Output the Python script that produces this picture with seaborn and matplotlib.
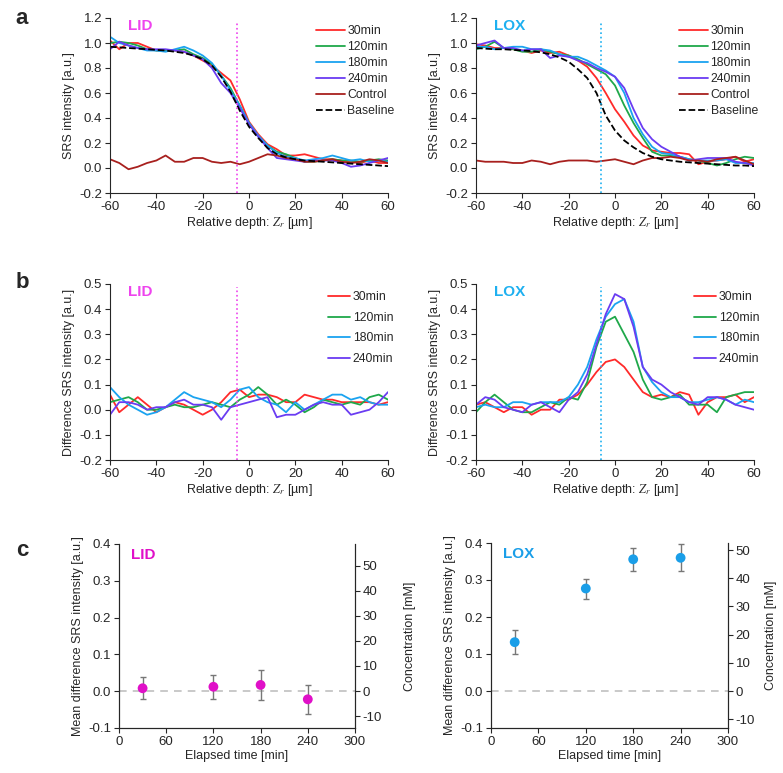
import numpy as np
import pandas as pd
import matplotlib
matplotlib.use("Agg")
import matplotlib.pyplot as plt
import seaborn as sns

# depth grid (µm), values every 4 µm
depth = list(range(-60, 61, 4))

# ---- panel a, LID ----
lid_a_30 = [1.02, 0.95, 1.00, 1.00, 0.97, 0.94, 0.94, 0.94, 0.93, 0.90, 0.86, 0.82, 0.76, 0.70, 0.55, 0.37,
            0.27, 0.19, 0.15, 0.10, 0.10, 0.11, 0.09, 0.07, 0.07, 0.06, 0.05, 0.04, 0.06, 0.04, 0.04]
lid_a_120 = [1.00, 1.01, 1.00, 0.98, 0.95, 0.94, 0.94, 0.94, 0.95, 0.91, 0.88, 0.83, 0.74, 0.64, 0.50, 0.36,
             0.25, 0.18, 0.13, 0.11, 0.08, 0.05, 0.05, 0.06, 0.07, 0.06, 0.06, 0.05, 0.06, 0.07, 0.06]
lid_a_180 = [1.05, 1.00, 0.98, 0.96, 0.94, 0.94, 0.93, 0.95, 0.97, 0.94, 0.90, 0.84, 0.74, 0.62, 0.50, 0.36,
             0.26, 0.18, 0.12, 0.09, 0.08, 0.06, 0.07, 0.08, 0.10, 0.08, 0.06, 0.07, 0.05, 0.06, 0.05]
lid_a_240 = [0.95, 1.01, 0.98, 0.96, 0.95, 0.95, 0.95, 0.94, 0.93, 0.90, 0.87, 0.80, 0.68, 0.60, 0.48, 0.35,
             0.25, 0.16, 0.08, 0.07, 0.06, 0.05, 0.06, 0.06, 0.06, 0.04, 0.01, 0.02, 0.04, 0.06, 0.08]
lid_a_ctrl = [0.07, 0.04, -0.01, 0.01, 0.04, 0.06, 0.10, 0.05, 0.05, 0.08, 0.08, 0.05, 0.04, 0.05, 0.03, 0.05,
              0.08, 0.11, 0.10, 0.08, 0.07, 0.05, 0.05, 0.06, 0.07, 0.05, 0.04, 0.05, 0.07, 0.06, 0.04]
lid_a_base = [0.97, 0.965, 0.96, 0.955, 0.95, 0.945, 0.94, 0.93, 0.92, 0.90, 0.87, 0.82, 0.73, 0.61, 0.46, 0.33,
              0.24, 0.16, 0.11, 0.085, 0.07, 0.06, 0.055, 0.05, 0.045, 0.04, 0.035, 0.03, 0.025, 0.02, 0.015]

# ---- panel a, LOX ----
lox_a_30 = [0.99, 0.98, 0.96, 0.96, 0.95, 0.94, 0.92, 0.94, 0.92, 0.93, 0.90, 0.86, 0.81, 0.72, 0.60, 0.47,
            0.37, 0.26, 0.18, 0.14, 0.13, 0.12, 0.12, 0.11, 0.03, 0.05, 0.06, 0.07, 0.09, 0.05, 0.07]
lox_a_120 = [0.95, 0.97, 1.01, 0.96, 0.95, 0.93, 0.93, 0.95, 0.93, 0.91, 0.90, 0.87, 0.83, 0.79, 0.75, 0.66,
             0.50, 0.36, 0.24, 0.13, 0.10, 0.10, 0.09, 0.07, 0.06, 0.04, 0.02, 0.04, 0.07, 0.09, 0.08]
lox_a_180 = [0.97, 0.97, 0.95, 0.96, 0.97, 0.97, 0.95, 0.95, 0.94, 0.91, 0.89, 0.89, 0.86, 0.82, 0.78, 0.73,
             0.60, 0.40, 0.27, 0.17, 0.12, 0.11, 0.09, 0.07, 0.06, 0.06, 0.06, 0.07, 0.04, 0.04, 0.04]
lox_a_240 = [0.98, 1.00, 1.02, 0.96, 0.96, 0.94, 0.95, 0.95, 0.88, 0.90, 0.89, 0.86, 0.84, 0.80, 0.77, 0.73,
             0.64, 0.47, 0.32, 0.23, 0.17, 0.13, 0.09, 0.06, 0.07, 0.08, 0.08, 0.08, 0.05, 0.04, 0.02]
lox_a_ctrl = [0.06, 0.05, 0.05, 0.05, 0.04, 0.04, 0.06, 0.05, 0.03, 0.05, 0.06, 0.06, 0.06, 0.05, 0.06, 0.07,
              0.05, 0.03, 0.06, 0.08, 0.08, 0.09, 0.08, 0.06, 0.06, 0.05, 0.07, 0.08, 0.09, 0.06, 0.03]
lox_a_base = [0.96, 0.955, 0.95, 0.95, 0.945, 0.94, 0.935, 0.925, 0.91, 0.885, 0.85, 0.79, 0.72, 0.60, 0.42, 0.30,
              0.22, 0.165, 0.12, 0.09, 0.07, 0.06, 0.05, 0.045, 0.04, 0.035, 0.03, 0.025, 0.02, 0.02, 0.015]

# ---- panel b, LID (difference) ----
lid_b_30 = [0.06, -0.01, 0.02, 0.05, 0.02, -0.01, 0.01, 0.03, 0.02, 0.00, -0.02, 0.00, 0.03, 0.07, 0.08, 0.05,
            0.06, 0.06, 0.05, 0.03, 0.03, 0.06, 0.05, 0.04, 0.04, 0.03, 0.03, 0.03, 0.03, 0.02, 0.03]
lid_b_120 = [0.03, 0.04, 0.05, 0.03, 0.00, 0.00, 0.01, 0.02, 0.01, 0.01, 0.02, 0.03, 0.02, 0.01, 0.04, 0.06,
             0.09, 0.06, 0.02, 0.04, 0.02, -0.01, 0.01, 0.04, 0.03, 0.02, 0.03, 0.02, 0.05, 0.06, 0.04]
lid_b_180 = [0.09, 0.05, 0.02, 0.00, -0.02, -0.01, 0.01, 0.04, 0.07, 0.05, 0.04, 0.03, 0.01, 0.04, 0.08, 0.09,
             0.05, 0.03, 0.02, -0.01, 0.03, 0.00, 0.02, 0.04, 0.06, 0.06, 0.04, 0.05, 0.03, 0.02, 0.02]
lid_b_240 = [-0.02, 0.03, 0.03, 0.02, 0.00, 0.01, 0.01, 0.03, 0.04, 0.02, 0.02, 0.01, -0.04, 0.01, 0.02, 0.03,
             0.04, 0.05, -0.03, -0.02, -0.02, 0.00, 0.02, 0.03, 0.02, 0.02, -0.02, -0.01, 0.00, 0.03, 0.07]

# ---- panel b, LOX (difference) ----
lox_b_30 = [0.02, 0.03, 0.01, -0.01, 0.01, 0.01, -0.02, 0.00, 0.00, 0.04, 0.04, 0.06, 0.10, 0.15, 0.19, 0.20,
            0.17, 0.12, 0.07, 0.05, 0.06, 0.05, 0.07, 0.06, -0.02, 0.03, 0.05, 0.05, 0.06, 0.03, 0.05]
lox_b_120 = [-0.01, 0.03, 0.06, 0.03, 0.00, -0.01, -0.01, 0.01, 0.03, 0.02, 0.05, 0.04, 0.11, 0.25, 0.35, 0.37,
             0.30, 0.23, 0.12, 0.05, 0.04, 0.05, 0.06, 0.02, 0.02, 0.02, -0.01, 0.05, 0.06, 0.07, 0.07]
lox_b_180 = [0.01, 0.02, 0.01, 0.01, 0.03, 0.03, 0.02, 0.03, 0.03, 0.03, 0.05, 0.10, 0.17, 0.28, 0.37, 0.42,
             0.44, 0.35, 0.17, 0.11, 0.07, 0.05, 0.05, 0.03, 0.03, 0.04, 0.05, 0.04, 0.02, 0.04, 0.03]
lox_b_240 = [0.02, 0.05, 0.04, 0.01, 0.00, -0.01, 0.02, 0.03, 0.01, -0.01, 0.04, 0.07, 0.14, 0.26, 0.38, 0.46,
             0.44, 0.33, 0.17, 0.12, 0.10, 0.07, 0.05, 0.03, 0.02, 0.05, 0.05, 0.04, 0.02, 0.01, 0.00]

# ---- panel c ----
elapsed = [30, 120, 180, 240]
lid_c_mean = [0.008, 0.012, 0.017, -0.022]
lid_c_err = [0.030, 0.033, 0.041, 0.040]
lox_c_mean = [0.132, 0.277, 0.356, 0.360]
lox_c_err = [0.032, 0.027, 0.031, 0.037]

colors = {"30min": "#ff2a2a", "120min": "#1fa84a", "180min": "#1aa3f0",
          "240min": "#6a3cf2", "Control": "#a8201e", "Baseline": "black"}
LID_COL = "#ee44ee"
LOX_COL = "#1eb0f0"
TICK_FS = 9.5
LAB_FS = 9
LEG_FS = 8.8

sns.set_style("ticks")
plt.rcParams["font.family"] = ["Liberation Sans", "DejaVu Sans"]
plt.rcParams["mathtext.fontset"] = "stix"
plt.rcParams["axes.unicode_minus"] = False

fig = plt.figure(figsize=(7.83, 7.73), dpi=100)
W, H = 783, 773


def add_ax(x0, y0, x1, y1):
    return fig.add_axes([x0 / W, 1 - y1 / H, (x1 - x0) / W, (y1 - y0) / H])


def style_depth(ax, ylim, yticks, ylabel, vline, vcol, tag, tagcol):
    ax.set_xlim(-60, 60)
    ax.set_ylim(*ylim)
    ax.set_xticks(range(-60, 61, 20))
    ax.set_yticks(yticks)
    ax.set_yticklabels([f"{t:.1f}" for t in yticks])
    ax.set_xlabel(r"Relative depth: $\mathit{Z_r}$ [µm]", fontsize=LAB_FS, labelpad=2)
    ax.set_ylabel(ylabel, fontsize=LAB_FS, labelpad=3)
    ax.axvline(vline, color=vcol, ls=":", lw=1.2, ymax=0.985)
    ax.text(0.065, 0.955, tag, transform=ax.transAxes, color=tagcol, fontsize=11,
            fontweight="bold", va="center", ha="left")
    ax.tick_params(labelsize=TICK_FS, length=3.5, width=0.8, pad=2)
    sns.despine(ax=ax)


def draw_lines(ax, series, lw=1.3):
    for name, vals in series:
        df = pd.DataFrame({"depth": depth, "val": vals})
        sns.lineplot(data=df, x="depth", y="val", ax=ax, color=colors[name], lw=lw,
                     ls="--" if name == "Baseline" else "-", label=name)


# panel a
a_ticks = np.round(np.arange(-0.2, 1.21, 0.2), 1)
ax = add_ax(110, 18, 388, 193)
draw_lines(ax, [("30min", lid_a_30), ("120min", lid_a_120), ("180min", lid_a_180),
                ("240min", lid_a_240), ("Control", lid_a_ctrl), ("Baseline", lid_a_base)])
style_depth(ax, (-0.2, 1.2), a_ticks, "SRS intensity [a.u.]", -5.2, LID_COL, "LID", LID_COL)
ax.legend(frameon=False, loc="upper right", bbox_to_anchor=(1.05, 1.0), fontsize=LEG_FS,
          handlelength=2.4, handletextpad=0.2, labelspacing=0.32, borderaxespad=0.2)

ax = add_ax(476, 18, 754, 193)
draw_lines(ax, [("30min", lox_a_30), ("120min", lox_a_120), ("180min", lox_a_180),
                ("240min", lox_a_240), ("Control", lox_a_ctrl), ("Baseline", lox_a_base)])
style_depth(ax, (-0.2, 1.2), a_ticks, "SRS intensity [a.u.]", -6.2, LOX_COL, "LOX", LOX_COL)
ax.legend(frameon=False, loc="upper right", bbox_to_anchor=(1.04, 1.0), fontsize=LEG_FS,
          handlelength=2.4, handletextpad=0.2, labelspacing=0.32, borderaxespad=0.2)

# panel b
b_ticks = np.round(np.arange(-0.2, 0.51, 0.1), 1)
ax = add_ax(110, 284, 388, 460)
draw_lines(ax, [("30min", lid_b_30), ("120min", lid_b_120), ("180min", lid_b_180), ("240min", lid_b_240)])
style_depth(ax, (-0.2, 0.5), b_ticks, "Difference SRS intensity [a.u.]", -5.2, LID_COL, "LID", LID_COL)
ax.legend(frameon=False, loc="upper right", bbox_to_anchor=(1.045, 1.0), fontsize=LEG_FS,
          handlelength=1.8, handletextpad=0.2, labelspacing=0.7, borderaxespad=0.2)

ax = add_ax(476, 284, 754, 460)
draw_lines(ax, [("30min", lox_b_30), ("120min", lox_b_120), ("180min", lox_b_180), ("240min", lox_b_240)])
style_depth(ax, (-0.2, 0.5), b_ticks, "Difference SRS intensity [a.u.]", -6.2, LOX_COL, "LOX", LOX_COL)
ax.legend(frameon=False, loc="upper right", bbox_to_anchor=(1.045, 1.0), fontsize=LEG_FS,
          handlelength=1.8, handletextpad=0.2, labelspacing=0.7, borderaxespad=0.2)


# panel c
def draw_mean(ax, means, errs, col, tag, conc_lim, rpad):
    ax.axhline(0, color="#bbbbbb", ls=(0, (5, 4)), lw=1.1, zorder=1)
    ax.errorbar(elapsed, means, yerr=errs, fmt="none", ecolor="#777777", elinewidth=1.0,
                capsize=2.5, capthick=1.0, zorder=2)
    df = pd.DataFrame({"t": elapsed, "m": means})
    sns.scatterplot(data=df, x="t", y="m", ax=ax, color=col, s=50, edgecolor="none", zorder=3)
    c_ticks = np.round(np.arange(-0.1, 0.41, 0.1), 1)
    ax.set_xlim(0, 300)
    ax.set_ylim(-0.1, 0.4)
    ax.set_xticks(range(0, 301, 60))
    ax.set_yticks(c_ticks)
    ax.set_yticklabels([f"{t:.1f}" for t in c_ticks])
    ax.set_xlabel("Elapsed time [min]", fontsize=LAB_FS, labelpad=2)
    ax.set_ylabel("Mean difference SRS intensity [a.u.]", fontsize=LAB_FS, labelpad=3)
    ax.tick_params(labelsize=TICK_FS, length=3.5, width=0.8, pad=2)
    ax.text(0.05, 0.94, tag, transform=ax.transAxes, color=col, fontsize=11,
            fontweight="bold", va="center", ha="left")
    sns.despine(ax=ax, right=False)
    ax2 = ax.twinx()
    ax2.set_ylim(*conc_lim)
    ax2.set_yticks(range(-10, 51, 10))
    ax2.set_ylabel("Concentration [mM]", fontsize=LAB_FS, labelpad=rpad)
    ax2.tick_params(labelsize=TICK_FS, length=3.5, width=0.8, pad=2)
    ax2.spines["top"].set_visible(False)


ax = add_ax(119, 544, 355, 728)
draw_mean(ax, lid_c_mean, lid_c_err, "#e010c8", "LID", (-14.7, 58.6), 16)
ax = add_ax(491, 543, 728, 728)
draw_mean(ax, lox_c_mean, lox_c_err, "#1a9ee8", "LOX", (-13.1, 52.5), 7)

for letter, ypx in [("a", 18), ("b", 283), ("c", 551)]:
    fig.text(22 / W, 1 - ypx / H, letter, fontsize=16, fontweight="bold", ha="center", va="center")

fig.savefig("out.png", dpi=100)
